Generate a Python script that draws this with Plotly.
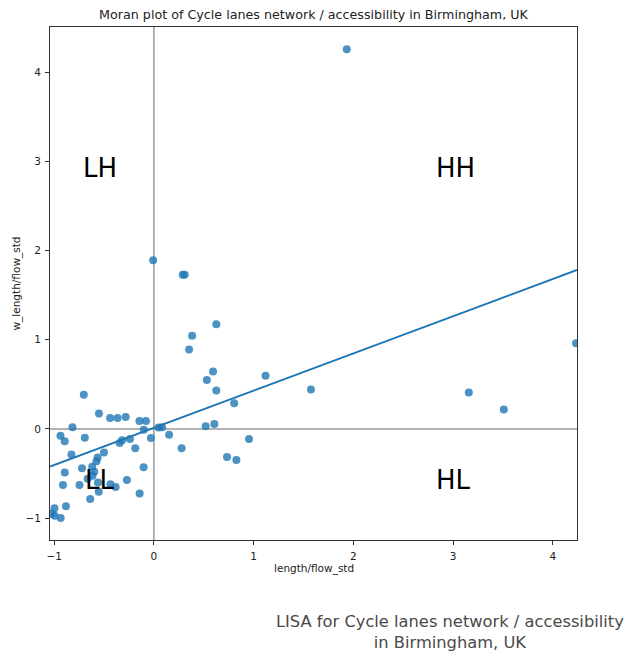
import numpy as np
import plotly.graph_objects as go

# Standardised cycle-lane length/flow (x) and its spatial lag (y)
length_flow_std = [
    1.934, -0.008, 0.289, 0.309, 0.626, 0.383, 0.353, 0.593, 0.531, 0.626,
    1.120, 0.805, 1.575, 3.158, 3.509, 4.233, -0.703, -0.551, -0.439, -0.364,
    -0.283, -0.145, -0.080, -0.817, -0.102, 0.047, 0.082, 0.519, 0.606, -0.937,
    -0.894, -0.693, 0.152, -0.030, -0.240, -0.319, -0.344, -0.187, 0.278, 0.954,
    -0.827, -0.501, -0.564, -0.576, 0.733, 0.827, -0.721, -0.619, -0.598, -0.894,
    -0.103, -0.664, -0.616, -0.561, -0.912, -0.746, -0.436, -0.384, -0.271, -0.553,
    -0.143, -0.639, -0.882, -0.997, -1.027, -0.995, -0.935,
]
w_length_flow_std = [
    4.256, 1.890, 1.729, 1.729, 1.174, 1.043, 0.889, 0.643, 0.548, 0.430,
    0.595, 0.289, 0.441, 0.408, 0.217, 0.961, 0.382, 0.172, 0.122, 0.122,
    0.133, 0.088, 0.088, 0.020, -0.008, 0.016, 0.018, 0.029, 0.054, -0.077,
    -0.137, -0.100, -0.066, -0.102, -0.113, -0.128, -0.159, -0.217, -0.217, -0.113,
    -0.288, -0.265, -0.321, -0.363, -0.315, -0.348, -0.441, -0.424, -0.480, -0.488,
    -0.430, -0.559, -0.525, -0.600, -0.628, -0.628, -0.620, -0.651, -0.573, -0.704,
    -0.723, -0.785, -0.867, -0.889, -0.951, -0.973, -0.999,
]

quadrant_names = ["LH", "HH", "LL", "HL"]
quadrant_x = [-0.54, 3.02, -0.55, 3.00]
quadrant_y = [2.92, 2.92, -0.57, -0.57]

x_range = [-1.042, 4.243]
y_range = [-1.245, 4.505]
tick_values = [-1, 0, 1, 2, 3, 4]

blue = "#1f77b4"
x = np.array(length_flow_std)
y = np.array(w_length_flow_std)

# Least-squares fit of the spatial lag on the variable
slope, intercept = np.polyfit(x, y, 1)
fit_x = np.array(x_range)
fit_y = intercept + slope * fit_x

fig = go.Figure()

# quadrant dividers
fig.add_trace(go.Scatter(x=[0, 0], y=y_range, mode="lines",
                         line=dict(color="#9a9a9a", width=1.5),
                         hoverinfo="skip", showlegend=False))
fig.add_trace(go.Scatter(x=x_range, y=[0, 0], mode="lines",
                         line=dict(color="#9a9a9a", width=1.5),
                         hoverinfo="skip", showlegend=False))

fig.add_trace(go.Scatter(x=x, y=y, mode="markers",
                         marker=dict(color=blue, opacity=0.8, size=8, line=dict(width=0)),
                         showlegend=False, cliponaxis=True))
fig.add_trace(go.Scatter(x=fit_x, y=fit_y, mode="lines",
                         line=dict(color=blue, width=2), showlegend=False))

font = "DejaVu Sans"
for name, qx, qy in zip(quadrant_names, quadrant_x, quadrant_y):
    fig.add_annotation(x=qx, y=qy, text=name, showarrow=False,
                       font=dict(family=font, size=26, color="black"))

# axis titles
fig.add_annotation(xref="paper", yref="paper", x=0.5, y=0, yshift=-28,
                   xanchor="center", yanchor="middle",
                   text="length/flow_std", showarrow=False,
                   font=dict(family=font, size=10.5, color="#222"))
fig.add_annotation(xref="paper", yref="paper", x=0, y=0.5, xshift=-34,
                   xanchor="center", yanchor="middle",
                   text="w_length/flow_std", textangle=-90, showarrow=False,
                   font=dict(family=font, size=10.5, color="#222"))

# caption below the chart
fig.add_annotation(xref="paper", yref="paper", x=0.759, y=-0.1786,
                   xanchor="center", yanchor="middle",
                   text="LISA for Cycle lanes network / accessibility<br>in Birmingham, UK",
                   showarrow=False, align="center",
                   font=dict(family=font, size=16.3, color="#4a4a4a"))

axis_common = dict(showgrid=False, zeroline=False, showline=True, mirror=True,
                   linecolor="#333", linewidth=1, ticks="outside", ticklen=4,
                   tickcolor="#333", ticklabelstandoff=2,
                   tickfont=dict(family=font, size=10.5, color="#222"))

fig.update_layout(
    width=626, height=657,
    margin=dict(l=50, r=49, t=27, b=117),
    paper_bgcolor="white", plot_bgcolor="white",
    title=dict(text="Moran plot of Cycle lanes network / accessibility in Birmingham, UK",
               x=0.5, xanchor="center", xref="paper", y=1 - 15 / 657, yanchor="middle",
               font=dict(family=font, size=12.7, color="#222")),
    xaxis=dict(range=x_range, tickvals=tick_values, **axis_common),
    yaxis=dict(range=y_range, tickvals=tick_values, **axis_common),
)

fig.write_html("out.html")
